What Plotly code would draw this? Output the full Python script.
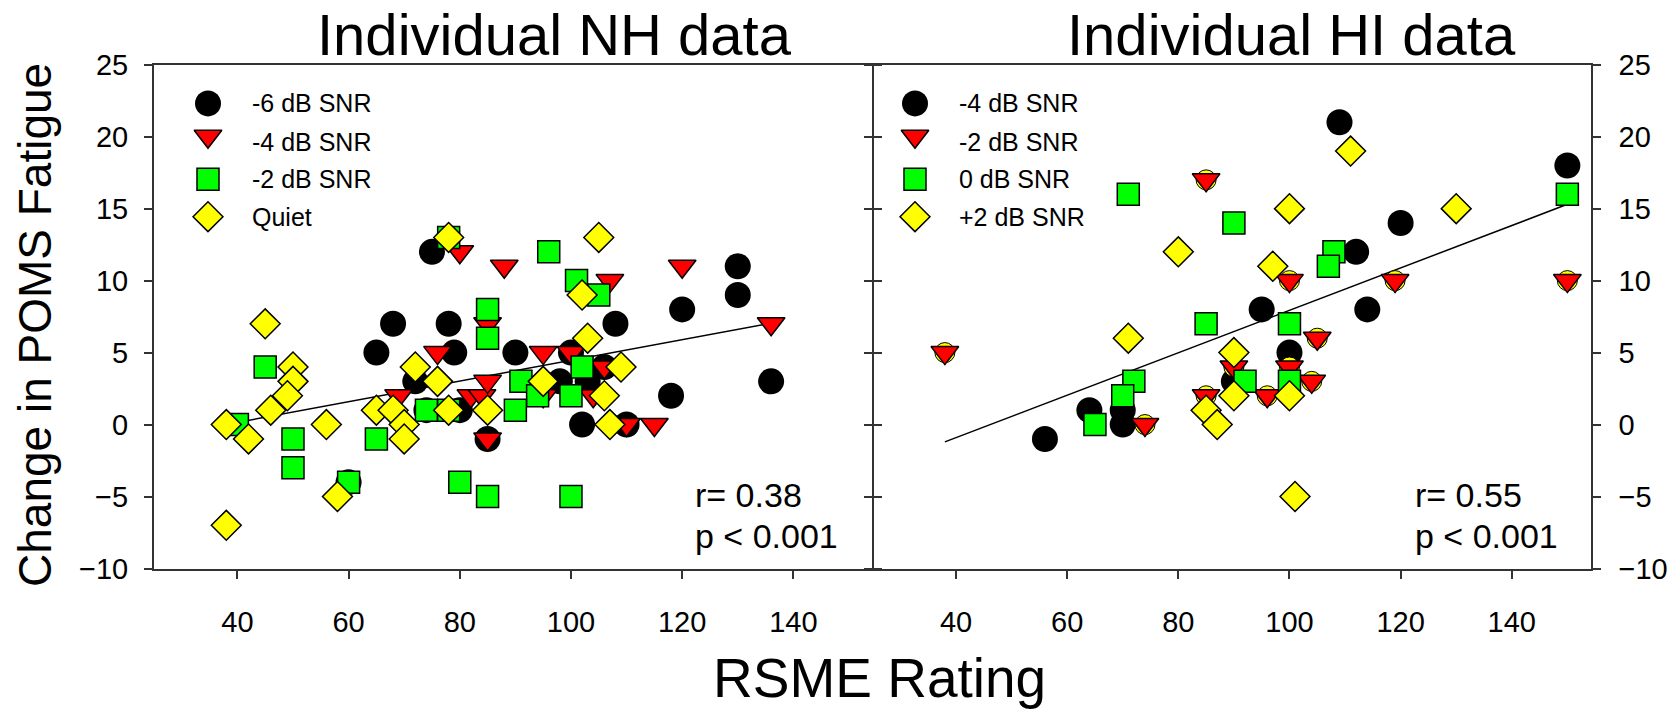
import plotly.graph_objects as go

W, H = 1671, 710
FONT = "Liberation Sans, Arial, sans-serif"

# ---------------- data: NH panel ----------------
nh_m6_x = [75, 68, 78, 65, 79, 72, 74, 80, 60, 85, 130, 130, 120, 108, 90, 100, 98, 103, 118, 136, 102, 110, 106]
nh_m6_y = [12, 7, 7, 5, 5, 3, 1, 1, -4, -1, 11, 9, 8, 7, 5, 5, 3, 3, 2, 3, 0, 0, 4]

nh_m4_x = [80, 88, 107, 120, 69, 76, 82, 84, 85, 85, 85, 95, 100, 106, 95, 104, 110, 115, 136]
nh_m4_y = [12, 11, 10, 11, 2, 5, 2, 2, 3, -1, 7, 5, 5, 4, 2, 2, 0, 0, 7]

nh_m2_x = [78, 96, 101, 105, 85, 85, 45, 40, 50, 50, 60, 65, 74, 78, 80, 85, 91, 94, 90, 100, 102, 100]
nh_m2_y = [13, 12, 10, 9, 8, 6, 4, 0, -1, -3, -4, -1, 1, 1, -4, -5, 3, 2, 1, 2, 4, -5]

nh_q_x = [78, 105, 102, 45, 50, 50, 49, 46, 38, 42, 56, 58, 38, 65, 68, 70, 70, 72, 76, 78, 85, 95, 103, 109, 106, 107]
nh_q_y = [13, 13, 9, 7, 4, 3, 2, 1, 0, -1, 0, -5, -7, 1, 1, 0, -1, 4, 3, 1, 1, 3, 6, 4, 2, 0]

nh_fit_x = [40, 136]
nh_fit_y = [0.15, 7.05]

# ---------------- data: HI panel ----------------
hi_m4_x = [109, 150, 120, 112, 95, 114, 100, 56, 64, 70, 70, 90]
hi_m4_y = [21, 18, 14, 12, 8, 8, 5, -1, 1, 1, 0, 3]

hi_m2_x = [85, 100, 119, 150, 38, 74, 85, 90, 96, 100, 105, 104]
hi_m2_y = [17, 10, 10, 10, 5, 0, 2, 4, 2, 4, 6, 3]

hi_0_x = [71, 90, 150, 108, 107, 85, 72, 70, 65, 92, 100, 100]
hi_0_y = [16, 14, 16, 12, 11, 7, 3, 2, 0, 3, 7, 3]

hi_p2_x = [80, 97, 100, 111, 130, 71, 90, 90, 85, 87, 101, 100]
hi_p2_y = [12, 11, 15, 19, 15, 6, 5, 2, 1, 0, -5, 2]

hi_fit_x = [38, 150]
hi_fit_y = [-1.2, 15.3]

nh_labels = ["-6 dB SNR", "-4 dB SNR", "-2 dB SNR", "Quiet"]
hi_labels = ["-4 dB SNR", "-2 dB SNR", "0 dB SNR", "+2 dB SNR"]

x_ticks = [40, 60, 80, 100, 120, 140]
y_ticks = [-10, -5, 0, 5, 10, 15, 20, 25]

# ---------------- styles ----------------
AX = "#333333"
STY = [
    dict(symbol="circle", size=26, color="black", line=dict(width=0, color="black")),
    dict(symbol="triangle-down", size=24, color="#FF0000", line=dict(width=1.5, color="black")),
    dict(symbol="square", size=22, color="#00FF00", line=dict(width=1.5, color="black")),
    dict(symbol="diamond", size=23, color="#FFFF00", line=dict(width=1.5, color="black")),
]
UNDER = dict(symbol="circle", size=20, color="#FFFF00", line=dict(width=1, color="black"))

fig = go.Figure()

def pts(x, y, st, xa, ya):
    fig.add_trace(go.Scatter(x=x, y=y, mode="markers", marker=st, xaxis=xa, yaxis=ya,
                             showlegend=False, hoverinfo="skip", cliponaxis=False))

# NH panel
fig.add_trace(go.Scatter(x=nh_fit_x, y=nh_fit_y, mode="lines", line=dict(color="black", width=1.5),
                         xaxis="x", yaxis="y", showlegend=False, hoverinfo="skip"))
pts(nh_m6_x, nh_m6_y, STY[0], "x", "y")
pts(nh_m4_x, nh_m4_y, STY[1], "x", "y")
pts(nh_m2_x, nh_m2_y, STY[2], "x", "y")
pts(nh_q_x, nh_q_y, STY[3], "x", "y")

# HI panel
fig.add_trace(go.Scatter(x=hi_fit_x, y=hi_fit_y, mode="lines", line=dict(color="black", width=1.5),
                         xaxis="x2", yaxis="y2", showlegend=False, hoverinfo="skip"))
pts(hi_m4_x, hi_m4_y, STY[0], "x2", "y2")
pts(hi_m2_x, hi_m2_y, UNDER, "x2", "y2")
pts(hi_m2_x, hi_m2_y, STY[1], "x2", "y2")
pts(hi_0_x, hi_0_y, STY[2], "x2", "y2")
pts(hi_p2_x, hi_p2_y, STY[3], "x2", "y2")

# legend symbols on a hidden pixel-space overlay axis
LEG_ROWS = [103.4, 141.7, 179.3, 216.7]
LEG_SYM_DY = [0, -5.5, 0, 0]
for mx, labels in [(208, nh_labels), (915, hi_labels)]:
    for i, lab in enumerate(labels):
        fig.add_trace(go.Scatter(x=[mx], y=[LEG_ROWS[i] + LEG_SYM_DY[i]], mode="markers", marker=STY[i],
                                 xaxis="x3", yaxis="y3", showlegend=False, hoverinfo="skip",
                                 cliponaxis=False))

dL = [154 / W, 872.3 / W]
dR = [874.3 / W, 1590.7 / W]
dY = [1 - 568.5 / H, 1 - 64.7 / H]

tickfont = dict(family=FONT, size=29, color="black")
common_x = dict(tickvals=x_ticks, ticks="outside", ticklen=8, tickwidth=1.5,
                tickcolor=AX, showline=True, linecolor=AX, linewidth=2, mirror=True,
                showgrid=False, zeroline=False, tickfont=tickfont, ticklabelstandoff=19,
                automargin=False)
common_y = dict(range=[-10, 25], tickvals=y_ticks, ticks="outside", ticklen=8, tickwidth=1.5,
                tickcolor=AX, showline=True, linecolor=AX, linewidth=2, mirror="ticks",
                showgrid=False, zeroline=False, tickfont=tickfont, automargin=False)

fig.update_layout(
    template="none",
    width=W, height=H, autosize=False,
    margin=dict(l=0, r=0, t=0, b=0, pad=0, autoexpand=False),
    paper_bgcolor="white", plot_bgcolor="rgba(0,0,0,0)",
    showlegend=False,
    xaxis=dict(domain=dL, anchor="y", range=[25, 154.2], **common_x),
    yaxis=dict(domain=dY, anchor="x", ticklabelstandoff=10, **common_y),
    xaxis2=dict(domain=dR, anchor="y2", range=[25.3, 154.2], **common_x),
    yaxis2=dict(domain=dY, anchor="x2", side="right", ticklabelstandoff=12, **common_y),
    xaxis3=dict(domain=[0, 1], range=[0, W], visible=False, anchor="y3", fixedrange=True,
                automargin=False),
    yaxis3=dict(domain=[0, 1], range=[H, 0], visible=False, anchor="x3", fixedrange=True,
                automargin=False),
)

def ann(text, px, py, size, xanchor="center", angle=0, yanchor="middle"):
    fig.add_annotation(text=text, x=px / W, y=1 - py / H, xref="paper", yref="paper",
                       xanchor=xanchor, yanchor=yanchor, showarrow=False, textangle=angle,
                       font=dict(family=FONT, size=size, color="black"))

ann("Individual NH data", 554, 0, 58, yanchor="top")
ann("Individual HI data", 1291, 0, 58, yanchor="top")
ann("Change in POMS Fatigue", 35, 325, 46, angle=-90)
ann("RSME Rating", 879, 678, 55)
ann("r= 0.38", 693, 495, 34, xanchor="left")
ann("p < 0.001", 693, 536, 34, xanchor="left")
ann("r= 0.55", 1413, 495, 34, xanchor="left")
ann("p < 0.001", 1413, 536, 34, xanchor="left")
for tx, labels in [(250, nh_labels), (957, hi_labels)]:
    for i, lab in enumerate(labels):
        ann(lab, tx, LEG_ROWS[i], 25, xanchor="left")

fig.write_html("out.html")
